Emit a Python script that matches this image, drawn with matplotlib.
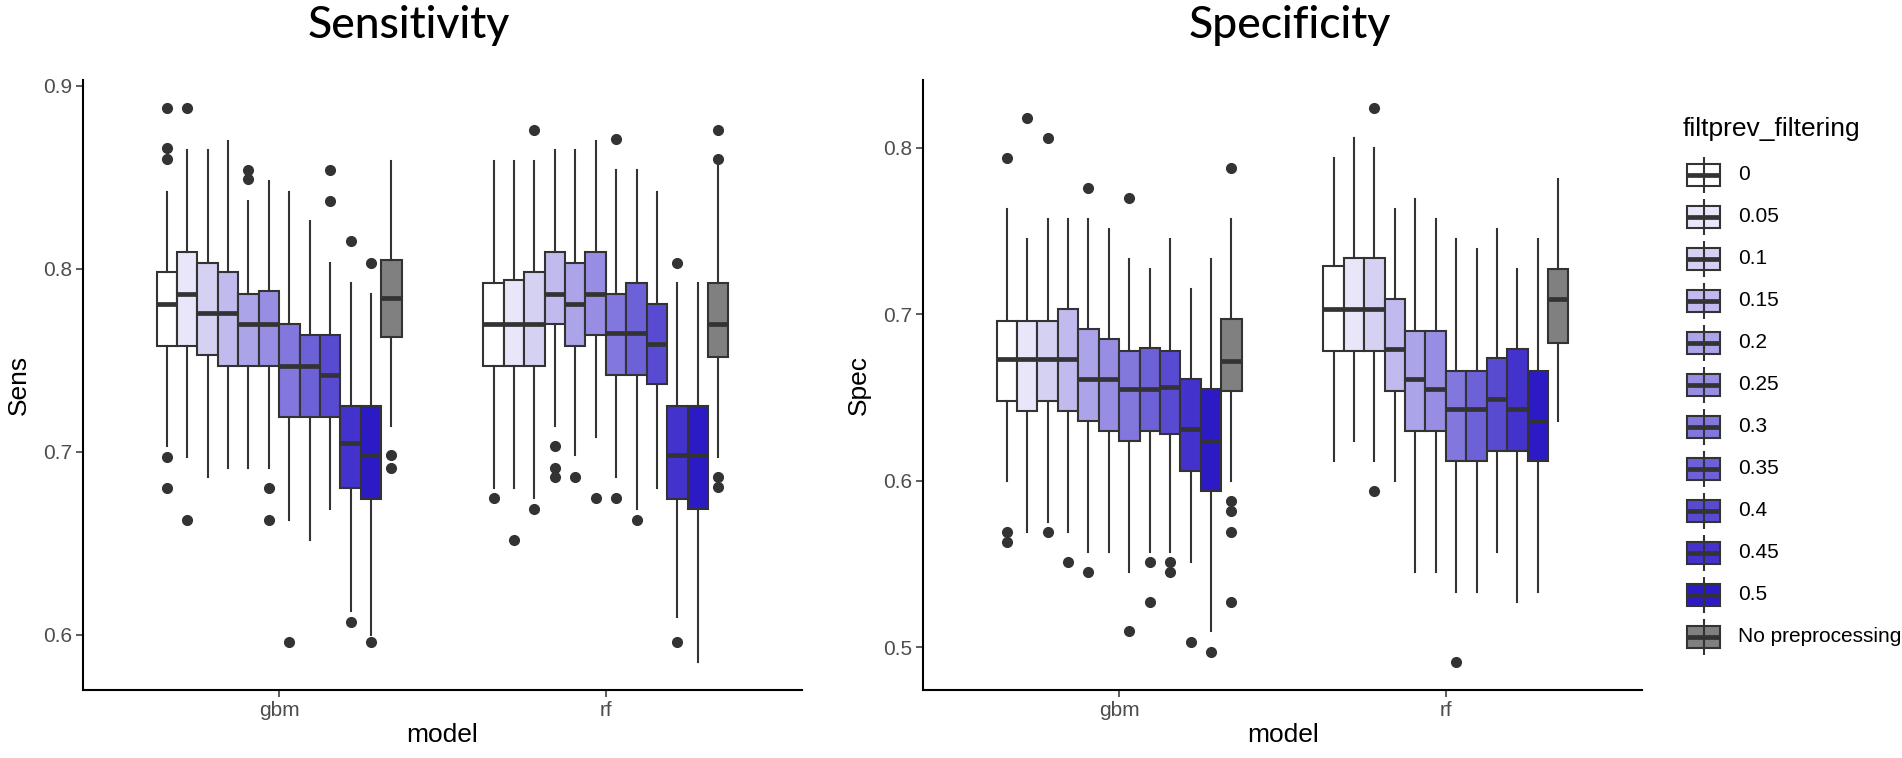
import matplotlib
matplotlib.use('Agg')
import matplotlib.pyplot as plt
from matplotlib.patches import Rectangle

plt.rcParams['font.family'] = ['Liberation Sans', 'DejaVu Sans']

# ---------------- data ----------------
models = ['gbm', 'rf']
levels = ['0', '0.05', '0.1', '0.15', '0.2', '0.25', '0.3', '0.35', '0.4', '0.45', '0.5', 'No preprocessing']
fills = ['#FFFFFF', '#E8E6F8', '#D5D1F3', '#C0BAEE', '#ABA4E8', '#978EE3',
         '#8277DD', '#6D61D7', '#584AD1', '#4333CC', '#2C1BC5', '#808080']

# Sensitivity - gbm
sens_gbm_lo  = [0.703, 0.697, 0.686, 0.691, 0.691, 0.691, 0.663, 0.652, 0.669, 0.613, 0.600, 0.714]
sens_gbm_q1  = [0.758, 0.758, 0.753, 0.747, 0.747, 0.747, 0.719, 0.719, 0.719, 0.680, 0.674, 0.763]
sens_gbm_med = [0.781, 0.786, 0.776, 0.776, 0.770, 0.770, 0.747, 0.747, 0.742, 0.705, 0.698, 0.784]
sens_gbm_q3  = [0.798, 0.809, 0.803, 0.798, 0.786, 0.788, 0.770, 0.764, 0.764, 0.725, 0.725, 0.805]
sens_gbm_hi  = [0.842, 0.865, 0.865, 0.870, 0.837, 0.848, 0.842, 0.826, 0.803, 0.792, 0.786, 0.859]
sens_gbm_fl  = [[0.888, 0.866, 0.860, 0.697, 0.680], [0.888, 0.663], [], [], [0.854, 0.849],
                [0.680, 0.663], [0.596], [], [0.854, 0.837], [0.815, 0.607], [0.803, 0.596],
                [0.698, 0.691]]

# Sensitivity - rf
sens_rf_lo  = [0.680, 0.680, 0.675, 0.714, 0.698, 0.708, 0.686, 0.669, 0.680, 0.610, 0.585, 0.697]
sens_rf_q1  = [0.747, 0.747, 0.747, 0.770, 0.758, 0.764, 0.742, 0.742, 0.737, 0.674, 0.669, 0.752]
sens_rf_med = [0.770, 0.770, 0.770, 0.786, 0.781, 0.786, 0.765, 0.765, 0.759, 0.698, 0.698, 0.770]
sens_rf_q3  = [0.792, 0.794, 0.798, 0.809, 0.803, 0.809, 0.786, 0.792, 0.781, 0.725, 0.725, 0.792]
sens_rf_hi  = [0.859, 0.859, 0.859, 0.865, 0.865, 0.870, 0.854, 0.854, 0.842, 0.792, 0.792, 0.859]
sens_rf_fl  = [[0.675], [0.652], [0.876, 0.669], [0.703, 0.691, 0.686], [0.686], [0.675],
               [0.871, 0.675], [0.663], [], [0.803, 0.596], [], [0.876, 0.860, 0.686, 0.681]]

# Specificity - gbm
spec_gbm_lo  = [0.600, 0.569, 0.575, 0.569, 0.557, 0.557, 0.545, 0.557, 0.557, 0.551, 0.510, 0.600]
spec_gbm_q1  = [0.648, 0.642, 0.648, 0.642, 0.636, 0.630, 0.624, 0.630, 0.628, 0.606, 0.594, 0.654]
spec_gbm_med = [0.673, 0.673, 0.673, 0.673, 0.661, 0.661, 0.655, 0.655, 0.656, 0.631, 0.624, 0.672]
spec_gbm_q3  = [0.696, 0.696, 0.696, 0.703, 0.691, 0.685, 0.678, 0.680, 0.678, 0.661, 0.655, 0.697]
spec_gbm_hi  = [0.763, 0.745, 0.757, 0.757, 0.757, 0.751, 0.733, 0.727, 0.745, 0.715, 0.733, 0.757]
spec_gbm_fl  = [[0.794, 0.569, 0.563], [0.818], [0.806, 0.569], [0.551], [0.776, 0.545], [],
                [0.770, 0.510], [0.551, 0.527], [0.551, 0.545], [0.503], [0.497],
                [0.788, 0.588, 0.582, 0.569, 0.527]]

# Specificity - rf
spec_rf_lo  = [0.612, 0.624, 0.612, 0.600, 0.545, 0.545, 0.533, 0.533, 0.557, 0.527, 0.533, 0.636]
spec_rf_q1  = [0.678, 0.678, 0.678, 0.654, 0.630, 0.630, 0.612, 0.612, 0.618, 0.618, 0.612, 0.683]
spec_rf_med = [0.703, 0.703, 0.703, 0.679, 0.661, 0.655, 0.643, 0.643, 0.649, 0.643, 0.636, 0.709]
spec_rf_q3  = [0.729, 0.734, 0.734, 0.709, 0.690, 0.690, 0.666, 0.666, 0.674, 0.679, 0.666, 0.727]
spec_rf_hi  = [0.794, 0.806, 0.800, 0.763, 0.769, 0.757, 0.745, 0.739, 0.751, 0.727, 0.745, 0.781]
spec_rf_fl  = [[], [], [0.824, 0.594], [], [], [], [0.491], [], [], [], [], []]

sens_ticks = [0.6, 0.7, 0.8, 0.9]
spec_ticks = [0.5, 0.6, 0.7, 0.8]


def make_stats(lo, q1, med, q3, hi, fl):
    return [dict(whislo=a, q1=b, med=c, q3=d, whishi=e, fliers=f, label=lab)
            for a, b, c, d, e, f, lab in zip(lo, q1, med, q3, hi, fl, levels)]


sens_groups = [make_stats(sens_gbm_lo, sens_gbm_q1, sens_gbm_med, sens_gbm_q3, sens_gbm_hi, sens_gbm_fl),
               make_stats(sens_rf_lo, sens_rf_q1, sens_rf_med, sens_rf_q3, sens_rf_hi, sens_rf_fl)]
spec_groups = [make_stats(spec_gbm_lo, spec_gbm_q1, spec_gbm_med, spec_gbm_q3, spec_gbm_hi, spec_gbm_fl),
               make_stats(spec_rf_lo, spec_rf_q1, spec_rf_med, spec_rf_q3, spec_rf_hi, spec_rf_fl)]

# ---------------- figure ----------------
W, H = 1902, 758
fig = plt.figure(figsize=(W / 100, H / 100), dpi=100)

EDGE = '#333333'
TXT = '#4D4D4D'
BW = 0.0625
LW = 1.5
MLW = 3.4


def panel_rect(x0, x1, y0, y1):
    return [x0 / W, 1 - y1 / H, (x1 - x0) / W, (y1 - y0) / H]


def draw(ax, groups, ticks):
    for gi, stats in enumerate(groups):
        center = gi + 1
        pos = [center + (i - 5.5) * BW for i in range(len(stats))]
        b = ax.bxp(stats, positions=pos, widths=BW, patch_artist=True,
                   showcaps=False, manage_ticks=False,
                   boxprops=dict(edgecolor=EDGE, linewidth=LW),
                   medianprops=dict(color=EDGE, linewidth=MLW, solid_capstyle='butt'),
                   whiskerprops=dict(color=EDGE, linewidth=LW),
                   flierprops=dict(marker='o', markerfacecolor=EDGE, markeredgecolor=EDGE,
                                   markersize=7, linestyle='none'))
        for patch, c in zip(b['boxes'], fills):
            patch.set_facecolor(c)
    all_vals = []
    for stats in groups:
        for s in stats:
            all_vals += [s['whislo'], s['whishi']] + list(s['fliers'])
    lo, hi = min(all_vals), max(all_vals)
    pad = (hi - lo) * 0.05
    ax.set_ylim(lo - pad, hi + pad)
    ax.set_xlim(0.4, 2.6)
    ax.set_xticks([1, 2])
    ax.set_xticklabels(models)
    ax.set_yticks(ticks)
    ax.set_yticklabels([f'{t:.1f}' for t in ticks])
    for sp in ['top', 'right']:
        ax.spines[sp].set_visible(False)
    for sp in ['left', 'bottom']:
        ax.spines[sp].set_linewidth(1.5)
        ax.spines[sp].set_color('black')
    ax.tick_params(axis='both', colors=EDGE, width=1.1, length=5, labelsize=15,
                   labelcolor=TXT, pad=3)


ax1 = fig.add_axes(panel_rect(83, 802, 80, 690))
ax2 = fig.add_axes(panel_rect(923, 1642, 80, 690))
draw(ax1, sens_groups, sens_ticks)
draw(ax2, spec_groups, spec_ticks)

# titles and axis labels
fig.text(409 / W, 1 - 26 / H, 'Sensitivity', ha='center', va='center', fontsize=32,
         family=['Lato', 'DejaVu Sans'], fontweight='medium')
fig.text(1290 / W, 1 - 26 / H, 'Specificity', ha='center', va='center', fontsize=32,
         family=['Lato', 'DejaVu Sans'], fontweight='medium')
fig.text(19 / W, 1 - 385 / H, 'Sens', rotation=90, ha='center', va='center', fontsize=19)
fig.text(859 / W, 1 - 385 / H, 'Spec', rotation=90, ha='center', va='center', fontsize=19)
fig.text(442 / W, 1 - 735 / H, 'model', ha='center', va='center', fontsize=19)
fig.text(1283 / W, 1 - 735 / H, 'model', ha='center', va='center', fontsize=19)

# legend
lax = fig.add_axes([0, 0, 1, 1])
lax.set_xlim(0, W)
lax.set_ylim(H, 0)
lax.axis('off')
lax.text(1683, 129, 'filtprev_filtering', ha='left', va='center', fontsize=19)
kx0, kw, kh = 1687, 33, 22
for i, (lab, c) in enumerate(zip(levels, fills)):
    cy = 175 + 42 * i
    xm = kx0 + kw / 2
    lax.plot([xm, xm], [cy - 18, cy + 18], color=EDGE, lw=LW, solid_capstyle='butt')
    lax.add_patch(Rectangle((kx0, cy - kh / 2), kw, kh, facecolor=c, edgecolor=EDGE, lw=LW))
    lax.plot([kx0, kx0 + kw], [cy, cy], color=EDGE, lw=MLW, solid_capstyle='butt')
    lax.text(1738, cy, lab, ha='left', va='center', fontsize=15)

fig.savefig('out.png', dpi=100)
